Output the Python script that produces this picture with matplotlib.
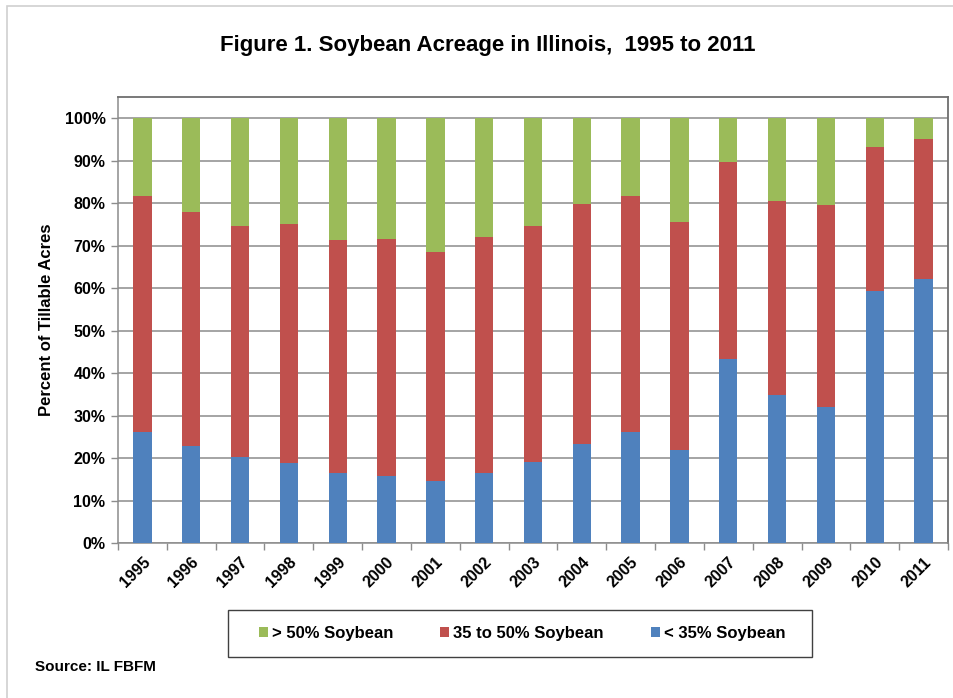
import numpy as np
import matplotlib
matplotlib.use('Agg')
from matplotlib import pyplot as plt
from matplotlib.patches import Rectangle

plt.rcParams['font.family'] = ['Liberation Sans', 'DejaVu Sans']
plt.rcParams['font.weight'] = 'bold'

years = [str(y) for y in range(1995, 2012)]
# percent of tillable acres in each class
low = [26.3, 22.9, 20.4, 19.0, 16.5, 15.9, 14.7, 16.5, 19.2, 23.4, 26.1, 22.0, 43.3, 34.8, 32.1, 59.3, 62.3]
low_mid_top = [81.8, 77.9, 74.7, 75.1, 71.4, 71.7, 68.5, 72.0, 74.7, 79.8, 81.8, 75.7, 89.8, 80.6, 79.6, 93.2, 95.2]
mid = [t - b for t, b in zip(low_mid_top, low)]
high = [100 - t for t in low_mid_top]

blue = '#4F81BD'
red = '#C0504D'
green = '#9BBB59'

fig = plt.figure(figsize=(9.54, 6.98), dpi=100)
ax = fig.add_axes([118 / 954, 1 - 543.3 / 698, 830 / 954, (543.3 - 96.7) / 698])

x = np.arange(len(years))
w = 0.375
b1 = ax.bar(x, low, w, color=blue, label='< 35% Soybean', zorder=3)
b2 = ax.bar(x, mid, w, bottom=low, color=red, label='35 to 50% Soybean', zorder=3)
b3 = ax.bar(x, high, w, bottom=low_mid_top, color=green, label='> 50% Soybean', zorder=3)

ax.set_xlim(-0.5, len(years) - 0.5)
ax.set_ylim(0, 105.1)
ax.set_yticks(range(0, 101, 10))
ax.set_yticklabels([f'{v}%' for v in range(0, 101, 10)], fontsize=11.5, fontweight='bold')
ax.yaxis.grid(True, color='#8c8c8c', linewidth=1.1, zorder=0)
ax.set_axisbelow(True)

# category labels between tick marks
ax.set_xticks(x)
ax.set_xticklabels(years, rotation=45, ha='right', va='top', rotation_mode='anchor',
                   fontsize=11.5, fontweight='bold')
ax.tick_params(axis='x', which='major', length=0, pad=8)
ax.set_xticks(np.arange(-0.5, len(years)), minor=True)
ax.tick_params(axis='x', which='minor', length=5, color='#8c8c8c', width=1)
ax.tick_params(axis='y', length=5, color='#8c8c8c', width=1, pad=4)

for s in ['left', 'bottom']:
    ax.spines[s].set_color('#8c8c8c')
    ax.spines[s].set_linewidth(1.1)
for s in ['top', 'right']:
    ax.spines[s].set_color('#6e6e6e')
    ax.spines[s].set_linewidth(1.3)

ax.set_ylabel('Percent of Tillable Acres', fontsize=12, fontweight='bold', labelpad=8)

fig.text(488 / 954, 1 - 45 / 698, 'Figure 1. Soybean Acreage in Illinois,  1995 to 2011',
         ha='center', va='center', fontsize=16, fontweight='bold')

leg = fig.legend(handles=[b3, b2, b1], loc='center', ncol=3,
                 bbox_to_anchor=(522 / 954, 1 - 633.5 / 698),
                 fontsize=12, frameon=False,
                 handlelength=0.55, handleheight=0.55, handletextpad=0.25,
                 columnspacing=2.8, borderaxespad=0)
for t in leg.get_texts():
    t.set_fontweight('bold')

# legend box
fig.patches.append(Rectangle((228 / 954, 1 - 657 / 698), 584 / 954, 47 / 698,
                             transform=fig.transFigure, fill=False,
                             edgecolor='#404040', linewidth=1.0))

fig.text(35 / 954, 1 - 667 / 698, 'Source: IL FBFM', ha='left', va='center',
         fontsize=11, fontweight='bold')

# outer frame of the chart area
fig.patches.append(Rectangle((7 / 954, -0.05), 1.0, 1 - 6 / 698 + 0.05,
                             transform=fig.transFigure, fill=False,
                             edgecolor='#d0d0d0', linewidth=1.2))

fig.savefig('out.png', dpi=100)
